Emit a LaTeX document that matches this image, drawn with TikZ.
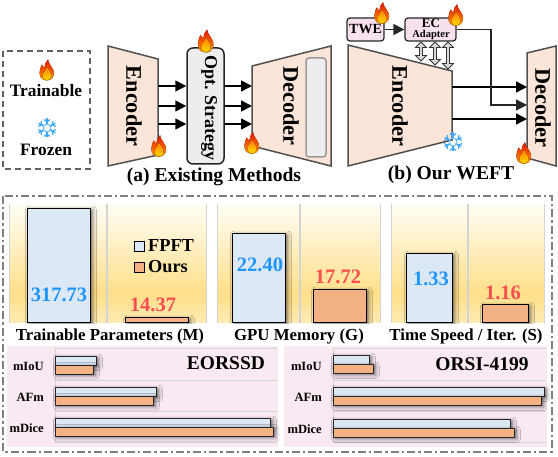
\documentclass[tikz,border=0pt]{standalone}
\usepackage{fontspec}
\setmainfont{Liberation Serif}
\usepackage{xcolor}
\usepackage{tikz}
\usetikzlibrary{arrows.meta,positioning,calc,shapes.arrows,shadows.blur}
\definecolor{netfill}{HTML}{FBE5D8}
\definecolor{netedge}{HTML}{505050}
\definecolor{optfill}{HTML}{EDEDED}
\definecolor{pinkbox}{HTML}{F8E1EE}
\definecolor{pinkpanel}{HTML}{F9E9F3}
\definecolor{fpftfill}{HTML}{DCE8F5}
\definecolor{oursfill}{HTML}{F4B183}
\definecolor{fpftnum}{HTML}{1E96FF}
\definecolor{oursnum}{HTML}{FF4D50}
\definecolor{gridgray}{HTML}{D4D4D4}
\definecolor{frostblue}{HTML}{3FA9F5}
\definecolor{panelbot}{HTML}{FFEBB5}
\definecolor{panelmid}{HTML}{FFDF88}
\definecolor{paneltop}{HTML}{FFFDF6}
\pgfdeclareverticalshading{panelfade}{100bp}{color(0bp)=(panelbot); color(25bp)=(panelbot); color(37bp)=(panelmid); color(75bp)=(paneltop); color(100bp)=(paneltop)}
\tikzset{
  net/.style={draw=netedge,fill=netfill,line width=1.5pt,line join=miter},
  nettext/.style={font=\fontsize{22.3}{23}\selectfont\bfseries,rotate=-90,inner sep=0pt},
  flow/.style={-{Triangle[length=11pt,width=11pt]},line width=1.6pt,black},
  thinflow/.style={-{Triangle[length=11pt,width=11pt]},line width=1.2pt,black!85},
  tagbox/.style={draw=black!85,fill=pinkbox,line width=1.2pt,rounded corners=3pt},
  dblarrow/.style={double arrow,draw=black!80,fill=gray!30,line width=.8pt,minimum width=11pt,
    double arrow head extend=2.5pt,double arrow head indent=0pt,inner sep=.6pt,rotate=90},
  caption/.style={font=\fontsize{19.6}{20}\selectfont\bfseries,inner sep=0pt},
  axislabel/.style={font=\fontsize{16.8}{17}\selectfont\bfseries,inner sep=0pt},
  rowlabel/.style={font=\fontsize{12.6}{13}\selectfont\bfseries,inner sep=0pt,anchor=east},
  legendtext/.style={font=\fontsize{17.4}{18}\selectfont\bfseries,inner sep=0pt},
  barshadow/.style={blur shadow={shadow xshift=2.5pt,shadow yshift=-1pt,shadow blur radius=4pt,shadow opacity=60}},
  bar/.style={draw=black,line width=1pt,barshadow},
  hbar/.style={draw=black!85,line width=1pt,barshadow},
  flame/.pic={
    \fill[top color=orange!20!red!90!black,bottom color=orange!80!yellow] (0,10) .. controls (-5,10) and (-7.5,6) .. (-7,2)
      .. controls (-7,-1) and (-5.5,-3) .. (-5,-5) .. controls (-3.8,-4) and (-3,-3) .. (-2.5,-2)
      .. controls (-2.5,-5) and (-1,-8) .. (1,-10) .. controls (1,-7) and (4,-4) .. (6,0)
      .. controls (7.5,4) and (6,10) .. (0,10) -- cycle;
    \fill[top color=orange,bottom color=yellow!70!orange] (0,9.5) .. controls (-3.5,9.5) and (-5,6) .. (-3.5,3)
      .. controls (-2.5,1) and (-.5,-1) .. (0,-3) .. controls (1,-1) and (3.5,1.5) .. (4,4)
      .. controls (4.5,7) and (3,9.5) .. (0,9.5) -- cycle;
  },
  snowflake/.pic={
    \foreach \a in {0,60,...,300}{
      \draw[frostblue,line width=1.5pt,rotate=\a] (0,4) -- (0,9.5);
      \draw[frostblue,line width=1.2pt,rotate=\a] (-3,8.5) -- (0,6) -- (3,8.5);
    }
    \draw[frostblue!70,line width=1.1pt] (0:4) -- (60:4) -- (120:4) -- (180:4) -- (240:4) -- (300:4) -- cycle;
  }
}
\begin{document}
\begin{tikzpicture}[x=1pt,y=-1pt]
  \useasboundingbox (0,0) rectangle (558,457);
  % legend
  \draw[netedge!90,line width=1.3pt,dash pattern=on 6pt off 4pt] (3,51) rectangle (90,169);
  \pic[scale=1.05] at (47,70) {flame};
  \node[legendtext] (trainable) at (46,91) {Trainable};
  \pic at (47,128) {snowflake};
  \node[legendtext] (frozen) at (46,150) {Frozen};

  % existing methods
  \draw[net] (108,46) -- (158,59) -- (158,155) -- (108,166) -- cycle;
  \node[nettext] (enca) at (134,106) {Encoder};
  \node[draw=black!85,fill=optfill,line width=1.5pt,rounded corners=6pt,minimum width=37pt,minimum height=116pt,inner sep=0pt] (opt) at (205.5,106) {};
  \node[font=\fontsize{18}{18}\selectfont\bfseries,rotate=-90,inner sep=0pt] (opttext) at (209,108) {Opt. Strategy};
  \draw[net] (252,66) -- (331,46) -- (331,166) -- (252,146) -- cycle;
  \draw[draw=gray!80,fill=optfill,line width=1.5pt,rounded corners=3pt] (306,58) rectangle (326,157);
  \node[nettext] (deca) at (291,106) {Decoder};
  \foreach \y/\n in {86/1,106/2,124/3}{
    \coordinate (ea\n) at (158,\y);
    \coordinate (da\n) at (252,\y);
    \draw[flow] (ea\n) -- (ea\n -| opt.west);
    \draw[flow] (da\n -| opt.east) -- (da\n);
  }
  \pic[scale=1.15] at (206,41) {flame};
  \pic[scale=1.08] at (159,146) {flame};
  \pic[scale=1.08] at (252,143) {flame};
  \node[caption] (capa) at (214,177) {(a) Existing Methods};

  % our method
  \draw[net] (348,45) -- (452,71) -- (452,140) -- (348,166) -- cycle;
  \node[nettext] (encb) at (400,106) {Encoder};
  \node[tagbox,minimum width=37pt,minimum height=23pt,inner sep=0pt,font=\fontsize{14}{15}\selectfont\bfseries] (twe) at (365.5,29.5) {TWE};
  \node[tagbox,minimum width=51pt,minimum height=23pt,inner sep=0pt] (adapter) at (430.5,29.5) {};
  \node[font=\fontsize{13}{13}\selectfont\bfseries,inner sep=0pt] (ectext) at (431,23.5) {EC};
  \node[font=\fontsize{10.5}{11}\selectfont\bfseries,inner sep=0pt] (adtext) at (431,35) {Adapter};
  \draw[thinflow] (twe) -- (adapter);
  \node[dblarrow,minimum height=19pt] (link1) at (421,51.5) {};
  \node[dblarrow,minimum height=23pt] (link2) at (435,53.5) {};
  \node[dblarrow,minimum height=27pt] (link3) at (448,55.5) {};
  \draw[net] (527,53) -- (556,46) -- (556,166) -- (527,158) -- cycle;
  \node[nettext] (decb) at (543,108) {Decoder};
  \coordinate (ebt) at (452,87);
  \coordinate (ebb) at (452,119);
  \coordinate (dbt) at (527,87);
  \coordinate (dbm) at (527,105);
  \coordinate (dbb) at (527,119);
  \coordinate (bend) at (491,29.5);
  \draw[flow] (ebt) -- (dbt);
  \draw[flow] (ebb) -- (dbb);
  \draw[thinflow] (adapter.east) -- (bend) |- (dbm);
  \pic[scale=1.08] at (382,13) {flame};
  \pic[scale=1.08] at (456,15) {flame};
  \pic[scale=1.08] at (524,153) {flame};
  \pic at (453,142) {snowflake};
  \node[caption] (capb) at (451,175) {(b) Our WEFT};

  % lower frame
  \draw[gray,line width=1.5pt,dash pattern=on 8pt off 3pt on 2.5pt off 3pt] (3,196) rectangle (552,452);
  \foreach \l/\r in {9/106,107/206,217/299,300/380,391/467,468/544}{
    \shade[shading=panelfade] (\l,204) rectangle (\r,323);
    \draw[gridgray,line width=1pt] (\l,204) -- (\l,323) (\r,204) -- (\r,323);
  }
  \begin{scope}
    \clip (0,196) rectangle (558,323.8);
    \foreach \l/\t/\r/\c in {27/209/90/fpftfill,125/318/188/oursfill,232/234/285/fpftfill,313/290/366/oursfill,406/254/452/fpftfill,482/305/528/oursfill}{
      \draw[bar,fill=\c] (\l,\t) rectangle (\r,323);
    }
  \end{scope}
  \tikzset{bignum/.style={font=\fontsize{20.5}{21}\selectfont\bfseries,inner sep=0pt}}
  \node[bignum,fpftnum] (n1) at (59,295) {317.73};
  \node[bignum,oursnum] (n2) at (153,305) {14.37};
  \node[bignum,fpftnum] (n3) at (260,265) {22.40};
  \node[bignum,oursnum] (n4) at (338,277) {17.72};
  \node[bignum,fpftnum] (n5) at (431,279) {1.33};
  \node[bignum,oursnum] (n6) at (503,293) {1.16};
  \draw[fill=fpftfill,line width=1pt] (134,242) rectangle (144,252);
  \draw[fill=oursfill,line width=1pt] (134,263) rectangle (144,273);
  \node[font=\fontsize{18.3}{18}\selectfont\bfseries,inner sep=0pt,anchor=west] (fpft) at (148,246) {FPFT};
  \node[font=\fontsize{18.3}{18}\selectfont\bfseries,inner sep=0pt,anchor=west] (ours) at (148,267) {Ours};
  \node[axislabel] (ax1) at (110,336) {Trainable Parameters (M)};
  \node[axislabel] (ax2) at (299,336) {GPU Memory (G)};
  \node[axislabel] (ax3) at (466,336.5) {Time Speed / Iter. (S)};

  % pink panels
  \fill[pinkpanel] (7,346) rectangle (278,447);
  \fill[pinkpanel] (284,346) rectangle (547,447);
  \foreach \x/\e in {55/277,333/546}{
    \draw[gridgray,line width=1pt] (\x,349) -- (\x,443);
    \foreach \y in {349,381,412,443}{ \draw[gridgray,line width=1pt] (\x,\y) -- (\e,\y); }
  }
  \foreach \x/\t/\e/\c in {55/357/96/fpftfill,55/365.5/93/oursfill,55/388/156/fpftfill,55/396.5/153/oursfill,55/419/270/fpftfill,55/427.5/273/oursfill,
    333/356/369/fpftfill,333/365/373/oursfill,333/388/544/fpftfill,333/397/541/oursfill,333/420/510/fpftfill,333/429/514/oursfill}{
    \draw[hbar,fill=\c] (\x,\t) rectangle (\e,\t+8.7);
  }
  \node[rowlabel] (la1) at (44,366) {mIoU};
  \node[rowlabel] (la2) at (44,397) {AFm};
  \node[rowlabel] (la3) at (44,428) {mDice};
  \node[rowlabel] (lb1) at (322,366) {mIoU};
  \node[rowlabel] (lb2) at (322,397) {AFm};
  \node[rowlabel] (lb3) at (322,429) {mDice};
  \node[font=\fontsize{19.5}{20}\selectfont\bfseries,inner sep=0pt] (eorssd) at (226,363) {EORSSD};
  \node[font=\fontsize{19.5}{20}\selectfont\bfseries,inner sep=0pt] (orsi) at (482,364) {ORSI-4199};
\end{tikzpicture}
\end{document}
